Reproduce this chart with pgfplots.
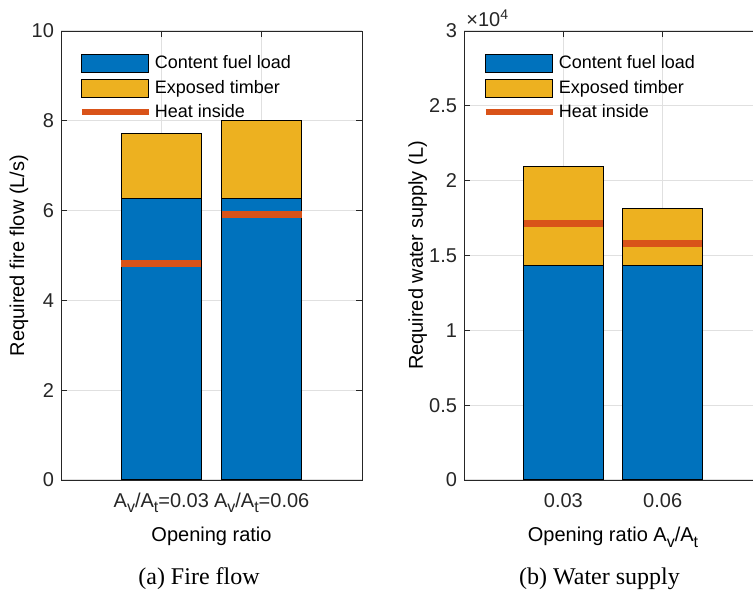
\documentclass[border=0pt]{standalone}
\usepackage{pgfplots}
\pgfplotsset{compat=1.18}
\usepackage{fontspec}
\setmainfont{Liberation Serif}
\newfontfamily\arial{Liberation Sans}
\definecolor{mblue}{HTML}{0072BD}
\definecolor{myellow}{HTML}{EDB120}
\definecolor{morange}{HTML}{D95319}
\definecolor{axgray}{HTML}{262626}
\definecolor{gridgray}{HTML}{E0E0E0}
\newcommand{\sub}[1]{\raisebox{-0.5ex}{\fontsize{8}{9}\selectfont #1}}
\pgfplotsset{
  mypatch/.style={legend image code/.code={\draw[##1] (0pt,-4.5pt) rectangle (33.5pt,4.5pt);}},
  myline/.style={legend image code/.code={\draw[##1] (0pt,0pt) -- (33.5pt,0pt);}},
  mystyle/.style={
    scale only axis, anchor=south west,
    font=\arial\fontsize{10}{12}\selectfont,
    /pgf/number format/assume math mode=true,
    axis line style={axgray, line width=0.4pt},
    tick style={axgray, line width=0.4pt},
    major tick length=3pt,
    tick align=inside,
    grid=major, major grid style={gridgray, line width=0.5pt},
    ticklabel style={text=axgray},
    xticklabel style={yshift=-3pt},
    label style={font=\arial\fontsize{11}{13}\selectfont, text=axgray},
    xmin=0, xmax=3, xtick={1,2}, ymin=0,
    enlargelimits=false,
    legend cell align=left,
    legend style={anchor=north west, draw=none, fill=none, inner sep=0pt,
      font=\arial\fontsize{9}{11}\selectfont, text=black,
      nodes={inner sep=0pt}, row sep=3pt,
      /tikz/every odd column/.style={column sep=1.5pt}},
  },
  barA/.style={ybar, bar width=0.8, bar shift=0pt, draw=black, line width=0.5pt, forget plot},
  heat/.style={morange, line width=3.4pt, forget plot},
}
\begin{document}
\begin{tikzpicture}
\useasboundingbox (0,0) rectangle (376.5pt,298.5pt);
% ---------- (a) Fire flow ----------
\begin{axis}[mystyle,
  at={(30.5pt,58.5pt)}, width=150.5pt, height=224.5pt,
  ymax=10, ytick={0,2,4,6,8,10},
  xticklabels={{A\sub{v}/A\sub{t}=0.03},{A\sub{v}/A\sub{t}=0.06}},
  xlabel={Opening ratio},
  ylabel={Required fire flow (L/s)},
  every axis y label/.style={at={(axis description cs:-0.14,0.5)}, rotate=90, anchor=center},
  every axis x label/.style={at={(axis description cs:0.5,-0.138)}, anchor=base},
  legend style={at={(axis description cs:0.058,0.949)}},
]
\addlegendimage{mypatch, fill=mblue, draw=black, line width=0.5pt}
\addlegendentry{Content fuel load}
\addlegendimage{mypatch, fill=myellow, draw=black, line width=0.5pt}
\addlegendentry{Exposed timber}
\addlegendimage{myline, morange, line width=3pt}
\addlegendentry{Heat inside}
% total height (content + exposed timber)
\addplot[barA, fill=myellow] coordinates {(1,7.71) (2,8.00)};
% content fuel load
\addplot[barA, fill=mblue] coordinates {(1,6.26) (2,6.26)};
% heat inside
\addplot[heat] coordinates {(0.6,4.83) (1.4,4.83)};
\addplot[heat] coordinates {(1.6,5.92) (2.4,5.92)};
\end{axis}
% ---------- (b) Water supply ----------
\begin{axis}[mystyle,
  at={(232pt,58.5pt)}, width=149pt, height=224.5pt,
  ymax=30000, ytick={0,5000,10000,15000,20000,25000,30000},
  scaled y ticks=manual:{\texttimes10\textsuperscript{4}}{\pgfmathparse{#1/10000}},
  every y tick scale label/.style={at={(rel axis cs:0,1)}, anchor=south west, inner sep=1pt, yshift=1pt, text=axgray},
  xticklabels={0.03,0.06},
  xlabel={Opening ratio A\sub{v}/A\sub{t}},
  ylabel={Required water supply (L)},
  every axis y label/.style={at={(axis description cs:-0.155,0.5)}, rotate=90, anchor=center},
  every axis x label/.style={at={(axis description cs:0.5,-0.138)}, anchor=base},
  legend style={at={(axis description cs:0.062,0.949)}},
]
\addlegendimage{mypatch, fill=mblue, draw=black, line width=0.5pt}
\addlegendentry{Content fuel load}
\addlegendimage{mypatch, fill=myellow, draw=black, line width=0.5pt}
\addlegendentry{Exposed timber}
\addlegendimage{myline, morange, line width=3pt}
\addlegendentry{Heat inside}
\addplot[barA, fill=myellow] coordinates {(1,20920) (2,18130)};
\addplot[barA, fill=mblue] coordinates {(1,14330) (2,14330)};
\addplot[heat] coordinates {(0.6,17130) (1.4,17130)};
\addplot[heat] coordinates {(1.6,15790) (2.4,15790)};
\end{axis}
\node[font=\fontsize{12}{14}\selectfont, anchor=base] at (99.5pt,6pt) {(a) Fire flow};
\node[font=\fontsize{12}{14}\selectfont, anchor=base] at (299.75pt,6pt) {(b) Water supply};
\end{tikzpicture}
\end{document}
